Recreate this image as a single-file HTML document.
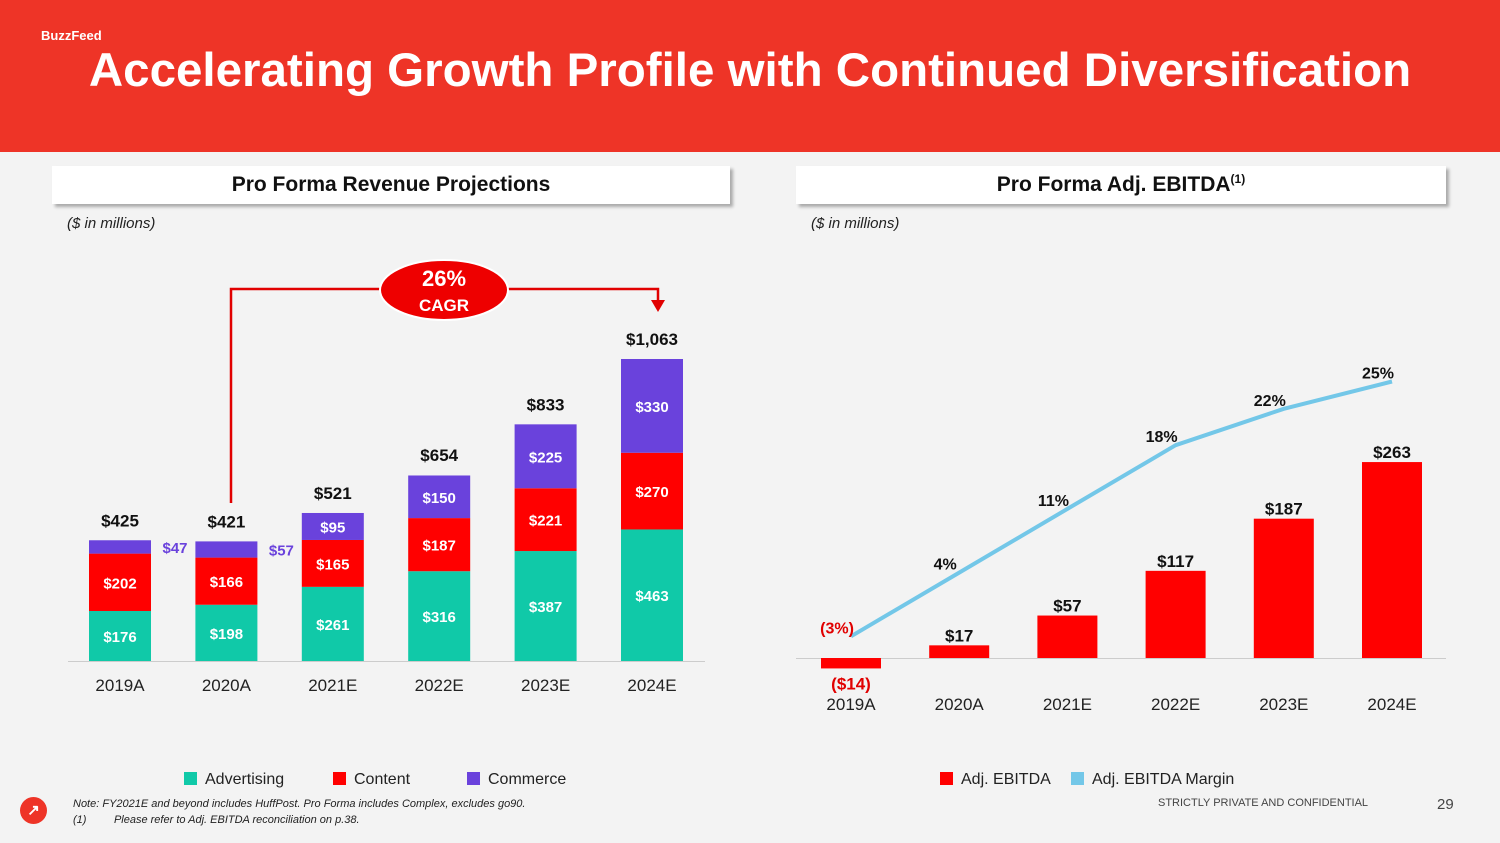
<!DOCTYPE html>
<html><head><meta charset="utf-8">
<style>
body{margin:0;width:1500px;height:843px;background:#f3f3f3;font-family:"Liberation Sans",sans-serif;overflow:hidden;position:relative}
.hdr{position:absolute;left:0;top:0;width:1500px;height:152px;background:#ee3427}
.brand{position:absolute;left:41px;top:28px;color:#fff;font-weight:bold;font-size:13px}
.title{position:absolute;left:0;width:1500px;top:43px;text-align:center;color:#fff;font-weight:bold;font-size:47.5px}
.box{position:absolute;top:166px;height:38px;background:#fff;box-shadow:3px 3px 3px rgba(0,0,0,.3);text-align:center;font-weight:bold;font-size:21px;line-height:38px;color:#111}
.box sup{font-size:12px;line-height:0;vertical-align:8px}
.unit{position:absolute;top:215px;font-style:italic;font-size:15px;color:#222}
.leg{position:absolute;top:771px;font-size:16px;color:#222}
.leg span.sw{display:inline-block;width:13px;height:13px;margin-right:8px;vertical-align:-1px}
.note{position:absolute;left:73px;font-style:italic;font-size:11px;color:#222}
</style></head><body>
<div class="hdr"></div>
<div class="brand">BuzzFeed</div>
<div class="title">Accelerating Growth Profile with Continued Diversification</div>
<div class="box" style="left:52px;width:678px">Pro Forma Revenue Projections</div>
<div class="box" style="left:796px;width:650px">Pro Forma Adj. EBITDA<sup>(1)</sup></div>
<div class="unit" style="left:67px">($ in millions)</div>
<div class="unit" style="left:811px">($ in millions)</div>
<svg id="chart" width="1500" height="843" style="position:absolute;left:0;top:0"></svg>
<div class="leg" style="left:184px"><span class="sw" style="background:#10c9a8"></span>Advertising</div>
<div class="leg" style="left:333px"><span class="sw" style="background:#f00"></span>Content</div>
<div class="leg" style="left:467px"><span class="sw" style="background:#6a42dc"></span>Commerce</div>
<div class="leg" style="left:940px"><span class="sw" style="background:#f00"></span>Adj. EBITDA</div>
<div class="leg" style="left:1071px"><span class="sw" style="background:#73c7e8"></span>Adj. EBITDA Margin</div>
<div style="position:absolute;left:20px;top:797px;width:27px;height:27px;border-radius:50%;background:#ee3427;color:#fff;font-size:15px;text-align:center;line-height:27px;font-weight:bold">↗</div>
<div class="note" style="top:798px">Note: FY2021E and beyond includes HuffPost. Pro Forma includes Complex, excludes go90.</div>
<div class="note" style="top:814px">(1)&nbsp;&nbsp;&nbsp;&nbsp;&nbsp;&nbsp;&nbsp;&nbsp;&nbsp;Please refer to Adj. EBITDA reconciliation on p.38.</div>
<div style="position:absolute;left:1158px;top:797px;font-size:11px;color:#444">STRICTLY PRIVATE AND CONFIDENTIAL</div>
<div style="position:absolute;left:1437px;top:796px;font-size:15px;color:#444">29</div>
<script>
const years=["2019A","2020A","2021E","2022E","2023E","2024E"];
const advertising=[176,198,261,316,387,463];
const content=[202,166,165,187,221,270];
const commerce=[47,57,95,150,225,330];
const totals=[425,421,521,654,833,1063];
const ebitda=[-14,17,57,117,187,263];
const ebitdaLabels=["($14)","$17","$57","$117","$187","$263"];
const margin=[-3,4,11,18,22,25];
const marginLabels=["(3%)","4%","11%","18%","22%","25%"];
const NS="http://www.w3.org/2000/svg",svg=document.getElementById('chart');
function el(t,a,txt){const e=document.createElementNS(NS,t);for(const k in a)e.setAttribute(k,a[k]);if(txt!=null)e.textContent=txt;svg.appendChild(e);return e;}
// left chart
const lx=i=>120+i*106.4, ly=v=>661-v*0.2841;
let ax=el('line',{x1:68,x2:705,y1:661.5,y2:661.5,stroke:'#ccc'});

years.forEach((y,i)=>{
  const segs=[[advertising[i],'#10c9a8','advertising'],[content[i],'#f00','content'],[commerce[i],'#6a42dc','commerce']];
  let base=0;
  segs.forEach(([v,c,n])=>{
    const r=el('rect',{x:lx(i)-31,y:ly(base+v),width:62,height:ly(base)-ly(base+v),fill:c});
    
    
    const inside=!(n==='commerce'&&i<2);
    const t=el('text',{x:inside?lx(i):lx(i)+55,y:(ly(base)+ly(base+v))/2+6,'text-anchor':'middle','font-size':15,'font-weight':'bold',fill:inside?'#fff':'#6a42dc'},'$'+v);
    
    
    base+=v;
  });
  const tt=el('text',{x:lx(i),y:ly(totals[i])-14,'text-anchor':'middle','font-size':17,'font-weight':'bold',fill:'#111'},'$'+totals[i].toLocaleString('en-US'));
  
  
  const xl=el('text',{x:lx(i),y:691,'text-anchor':'middle','font-size':17,fill:'#222'},y);
  
  
});
const cg=el('path',{d:'M231 503 V289 H658 V304',fill:'none',stroke:'#e10000','stroke-width':2.5});

el('path',{d:'M651 300 L665 300 L658 312 Z',fill:'#e10000'});
const ce=el('ellipse',{cx:444,cy:290,rx:64,ry:30,fill:'#ee0000',stroke:'#fff','stroke-width':2});

el('text',{x:444,y:286,'text-anchor':'middle','font-size':22,'font-weight':'bold',fill:'#fff'},'26%');
el('text',{x:444,y:311,'text-anchor':'middle','font-size':17,'font-weight':'bold',fill:'#fff'},'CAGR');
// right chart
const rx=i=>851+i*108.2, ry=v=>658-v*0.745, my=p=>609-p*9.1;
let ax2=el('line',{x1:796,x2:1446,y1:658.5,y2:658.5,stroke:'#ccc'});

years.forEach((y,i)=>{
  const v=ebitda[i];
  const r=el('rect',{x:rx(i)-30,y:Math.min(ry(v),ry(0)),width:60,height:Math.abs(ry(v)-ry(0)),fill:'#f00'});
  
  
  const neg=v<0;
  const t=el('text',{x:rx(i),y:neg?ry(v)+21:ry(v)-4,'text-anchor':'middle','font-size':17,'font-weight':'bold',fill:neg?'#e10000':'#111'},ebitdaLabels[i]);
  
  
  const xl=el('text',{x:rx(i),y:710,'text-anchor':'middle','font-size':17,fill:'#222'},y);
  
  
});
const pts=margin.map((p,i)=>rx(i)+','+my(p)).join(' ');
const pl=el('polyline',{points:pts,fill:'none',stroke:'#73c7e8','stroke-width':4,'stroke-linejoin':'round'});

margin.forEach((p,i)=>{
  const neg=p<0;
  const t=el('text',{x:rx(i)-14,y:my(p)-3,'text-anchor':'middle','font-size':16,'font-weight':'bold',fill:neg?'#e10000':'#111'},marginLabels[i]);
  
  
});
</script>
</body></html>
